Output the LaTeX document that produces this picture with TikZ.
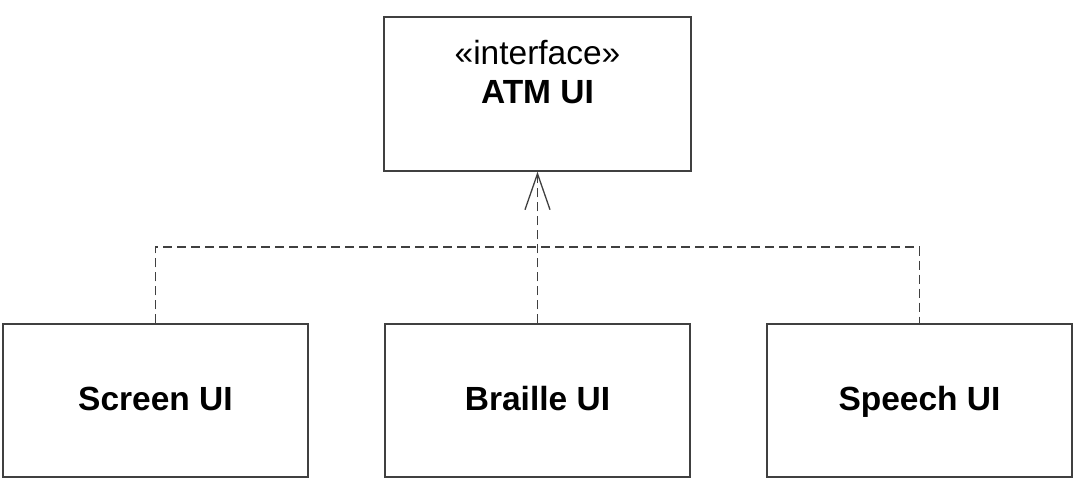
\documentclass[tikz,border=0pt]{standalone}
\usepackage{fontspec}
\setmainfont{Liberation Sans}
\usetikzlibrary{arrows.meta}
\begin{document}
\begin{tikzpicture}[x=1pt,y=-1pt,
  box/.style={draw=black!75, line width=1.4pt, minimum width=305pt, minimum height=153pt, inner sep=0pt,
    text height=24pt, text depth=5pt, font=\fontsize{33.5}{39}\selectfont\bfseries},
  txt/.style={inner sep=0pt, font=\fontsize{33.5}{39}\selectfont},
  realize/.style={draw=black!75, line width=1.3pt, dash pattern=on 9pt off 5pt},
  tipv/.style={-{Straight Barb[length=36pt,width=25pt,line width=1.3pt]}}]
\useasboundingbox (0,0) rectangle (1077,481);
\node[box, minimum width=307pt, minimum height=154pt] (atm) at (537.5,94) {};
\node[txt, anchor=base] (stereo) at (537.5,65) {«interface»};
\node[txt, anchor=base, font=\fontsize{33.5}{39}\selectfont\bfseries] (atmname) at (537.5,104) {ATM UI};
\node[box] (screen) at (155.5,400.5) {Screen UI};
\node[box] (braille) at (537.5,400.5) {Braille UI};
\node[box] (speech) at (919.5,400.5) {Speech UI};
\coordinate (j) at (537.5,247);
\draw[realize] (screen.north) |- (j) -| (speech.north);
\draw[realize, tipv] (braille.north) -- (atm.south);
\end{tikzpicture}
\end{document}
